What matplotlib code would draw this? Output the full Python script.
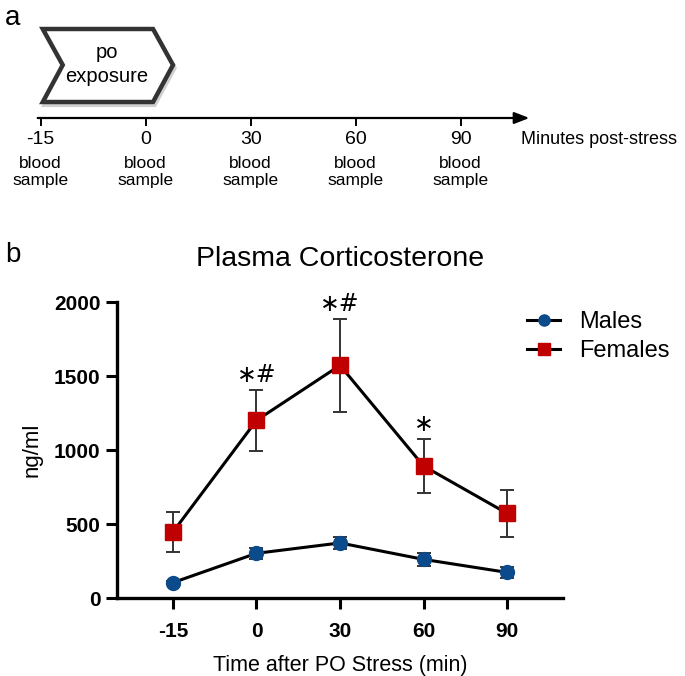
import numpy as np
import matplotlib
matplotlib.use('Agg')
import matplotlib.pyplot as plt
from matplotlib.patches import Polygon
from matplotlib.lines import Line2D

plt.rcParams['font.family'] = ['Liberation Sans', 'DejaVu Sans']

# data
times = ['-15', '0', '30', '60', '90']
males = [104, 302, 372, 261, 173]
males_err = [12, 36, 43, 44, 38]
females = [446, 1200, 1572, 892, 572]
females_err = [133, 208, 315, 183, 160]
signif = ['', '∗#', '∗#', '∗', '']

timeline_labels = ['-15', '0', '30', '60', '90']

W, H = 685, 676
fig = plt.figure(figsize=(W / 100, H / 100), dpi=100)

#%% panel a : timeline drawn in (index, pixel-y) coordinates
ta = fig.add_axes([0, 0, 1, 1])
ta.set_xlim(-40.7 / 105, (W - 40.7) / 105)
ta.set_ylim(H, 0)
ta.axis('off')

ta.text(-0.34, 18, 'a', fontsize=20, va='center', ha='left')

# chevron
chev = [(0.02, 29), (1.07, 29), (1.26, 65), (1.07, 102), (0.02, 102), (0.21, 65)]
shadow = Polygon([(x + 0.015, y + 3) for x, y in chev], closed=True, fc='#e2e2e2', ec='#d0d0d0', lw=3)
ta.add_patch(shadow)
ta.add_patch(Polygon(chev, closed=True, fc='white', ec='#333333', lw=3.2, joinstyle='miter'))
ta.text(0.63, 52, 'po', fontsize=14.5, ha='center', va='center')
ta.text(0.63, 77, 'exposure', fontsize=14.5, ha='center', va='center')

# axis line with arrow
ta.annotate('', xy=(4.68, 118), xytext=(-0.055, 118),
            arrowprops=dict(arrowstyle='-|>,head_length=0.9,head_width=0.35', color='black', lw=1.6))
for i, lab in enumerate(timeline_labels):
    ta.plot([i, i], [118, 125], color='black', lw=1.4)
    ta.text(i, 139, lab, fontsize=14, ha='center', va='center')
    ta.text(i, 163, 'blood', fontsize=12.5, ha='center', va='center')
    ta.text(i, 180, 'sample', fontsize=12.5, ha='center', va='center')
ta.text(4.57, 139, 'Minutes post-stress', fontsize=13, ha='left', va='center')

ta.text(-0.34, 255, 'b', fontsize=20, va='center', ha='left')

#%% panel b : corticosterone
x0, x1, y0, y1 = 117, 563, 302, 598
ax = fig.add_axes([x0 / W, 1 - y1 / H, (x1 - x0) / W, (y1 - y0) / H])
x = np.arange(len(times))

ax.errorbar(x, males, yerr=males_err, color='black', lw=2.2, marker='o', ms=10,
            mfc='#0b4a8b', mec='#0b4a8b', ecolor='#333333', elinewidth=1.4,
            capsize=5, capthick=1.4, zorder=3)
ax.errorbar(x, females, yerr=females_err, color='black', lw=2.2, marker='s', ms=11,
            mfc='#c00000', mec='#c00000', ecolor='#333333', elinewidth=1.4,
            capsize=5, capthick=1.4, zorder=3)

for xi, f, e, s in zip(x, females, females_err, signif):
    if s:
        ax.text(xi, f + e + 100, s, fontsize=17, ha='center', va='center',
                family=['DejaVu Sans'])

ax.set_xlim(-0.67, 4.67)
ax.set_ylim(0, 2000)
ax.set_yticks([0, 500, 1000, 1500, 2000])
ax.set_xticks(x)
ax.set_xticklabels(times)
for lab in ax.get_xticklabels() + ax.get_yticklabels():
    lab.set_fontweight('bold')
    lab.set_fontsize(15)

ax.spines['top'].set_visible(False)
ax.spines['right'].set_visible(False)
ax.spines['left'].set_linewidth(2.4)
ax.spines['bottom'].set_linewidth(2.4)
ax.tick_params(length=8, width=2.2, pad=4)
ax.tick_params(axis='x', pad=9)

ax.set_title('Plasma Corticosterone', fontsize=20.5, pad=26)
ax.set_ylabel('ng/ml', fontsize=16, labelpad=8)
ax.set_xlabel('Time after PO Stress (min)', fontsize=15.5, labelpad=10)

handles = [Line2D([], [], color='black', lw=2.2, marker='o', ms=8, mfc='#0b4a8b', mec='#0b4a8b'),
           Line2D([], [], color='black', lw=2.2, marker='s', ms=8, mfc='#c00000', mec='#c00000')]
ax.legend(handles, ['Males', 'Females'], loc='upper left',
          bbox_to_anchor=(527 / W, 1 - 311 / H), bbox_transform=fig.transFigure,
          frameon=False, fontsize=17, handlelength=1.4, handletextpad=0.8,
          labelspacing=0.3, borderpad=0, borderaxespad=0)

fig.savefig('out.png', dpi=100)
